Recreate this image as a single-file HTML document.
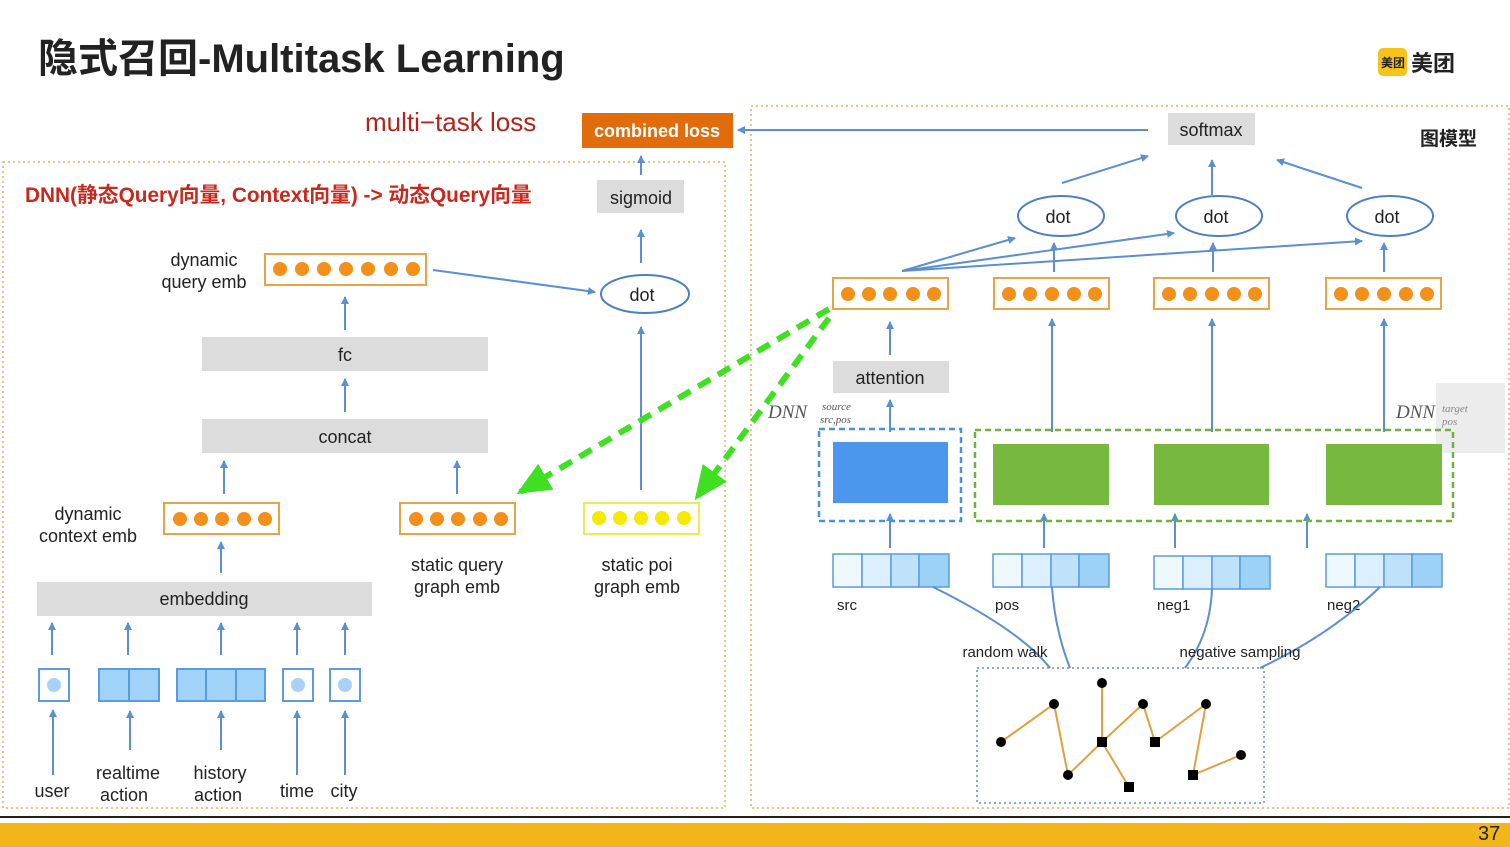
<!DOCTYPE html>
<html><head><meta charset="utf-8"><style>
html,body{margin:0;padding:0;background:#fff;width:1510px;height:847px;overflow:hidden}
svg{display:block}
text{font-family:"Liberation Sans","Noto Sans CJK SC",sans-serif}
</style></head><body>
<svg width="1510" height="847" viewBox="0 0 1510 847" xmlns="http://www.w3.org/2000/svg" fill="#222">
<defs>
<marker id="a" markerWidth="8" markerHeight="8" refX="7" refY="4" orient="auto" markerUnits="userSpaceOnUse"><path d="M0,0 L8,4 L0,8 z" fill="#5b8fd0"/></marker>
<marker id="g" markerWidth="34" markerHeight="30" refX="30" refY="15" orient="auto" markerUnits="userSpaceOnUse"><path d="M0,0 L34,15 L0,30 z" fill="#3ee021"/></marker>
</defs>
<!-- title -->
<text x="38" y="72" font-size="40" font-weight="bold" fill="#222">隐式召回-Multitask Learning</text>
<rect x="1378" y="48" width="29" height="28" rx="5" fill="#f8c21c"/>
<text x="1381" y="67" font-size="12" font-weight="bold">美团</text>
<text x="1411" y="71" font-size="22" font-weight="bold">美团</text>
<!-- bottom -->
<line x1="0" y1="817" x2="1510" y2="817" stroke="#222" stroke-width="2"/>
<rect x="0" y="823" width="1510" height="24" fill="#f2b51a"/>
<text x="1478" y="840" font-size="20" fill="#222">37</text>
<!-- loss -->
<text x="365" y="131" font-size="26" fill="#b3221b">multi−task loss</text>
<rect x="582" y="113" width="151" height="35" fill="#e06c0b"/>
<text x="657" y="137" font-size="18" font-weight="bold" fill="#fff" text-anchor="middle">combined loss</text>
<!-- frames -->
<rect x="3" y="162" width="722" height="646" fill="none" stroke="#e4b060" stroke-width="1.5" stroke-dasharray="2,3"/>
<rect x="751" y="106" width="758" height="702" fill="none" stroke="#e4b060" stroke-width="1.5" stroke-dasharray="2,3"/>
<text x="25" y="202" font-size="20.8" font-weight="bold" fill="#c9281d">DNN(静态Query向量, Context向量) -&gt; 动态Query向量</text>
<!-- left -->
<rect x="597" y="180" width="87" height="33" fill="#dcdcdc"/>
<text x="641" y="204" font-size="18" text-anchor="middle">sigmoid</text>
<line x1="641" y1="175" x2="641" y2="156" stroke="#5b8fd0" stroke-width="2" marker-end="url(#a)"/>
<line x1="641" y1="263" x2="641" y2="230" stroke="#5b8fd0" stroke-width="2" marker-end="url(#a)"/>
<ellipse cx="645" cy="294" rx="44" ry="19" fill="#fff" stroke="#4c7fc0" stroke-width="2"/>
<text x="642" y="301" font-size="18" text-anchor="middle">dot</text>
<text x="204" y="266" font-size="18" text-anchor="middle">dynamic</text>
<text x="204" y="288" font-size="18" text-anchor="middle">query emb</text>
<rect x="265" y="254" width="161" height="31" fill="#fff" stroke="#e8a444" stroke-width="2"/>
<g fill="#f39019"><circle cx="280" cy="269" r="7"/><circle cx="302" cy="269" r="7"/><circle cx="324" cy="269" r="7"/><circle cx="346" cy="269" r="7"/><circle cx="368" cy="269" r="7"/><circle cx="391" cy="269" r="7"/><circle cx="413" cy="269" r="7"/></g>
<line x1="433" y1="270" x2="595" y2="292" stroke="#5b8fd0" stroke-width="2" marker-end="url(#a)"/>
<line x1="345" y1="330" x2="345" y2="297" stroke="#5b8fd0" stroke-width="2" marker-end="url(#a)"/>
<rect x="202" y="337" width="286" height="34" fill="#dcdcdc"/>
<text x="345" y="361" font-size="18" text-anchor="middle">fc</text>
<line x1="345" y1="412" x2="345" y2="379" stroke="#5b8fd0" stroke-width="2" marker-end="url(#a)"/>
<rect x="202" y="419" width="286" height="34" fill="#dcdcdc"/>
<text x="345" y="443" font-size="18" text-anchor="middle">concat</text>
<line x1="224" y1="494" x2="224" y2="461" stroke="#5b8fd0" stroke-width="2" marker-end="url(#a)"/>
<line x1="457" y1="494" x2="457" y2="461" stroke="#5b8fd0" stroke-width="2" marker-end="url(#a)"/>
<text x="88" y="520" font-size="18" text-anchor="middle">dynamic</text>
<text x="88" y="542" font-size="18" text-anchor="middle">context emb</text>
<rect x="164" y="503" width="115" height="31" fill="#fff" stroke="#e8a444" stroke-width="2"/>
<g fill="#f39019"><circle cx="180" cy="519" r="7"/><circle cx="201" cy="519" r="7"/><circle cx="222" cy="519" r="7"/><circle cx="244" cy="519" r="7"/><circle cx="265" cy="519" r="7"/></g>
<rect x="400" y="503" width="115" height="31" fill="#fff" stroke="#e8a444" stroke-width="2"/>
<g fill="#f39019"><circle cx="416" cy="519" r="7"/><circle cx="437" cy="519" r="7"/><circle cx="458" cy="519" r="7"/><circle cx="480" cy="519" r="7"/><circle cx="501" cy="519" r="7"/></g>
<rect x="584" y="503" width="115" height="31" fill="#fff" stroke="#f0ea4a" stroke-width="2"/>
<g fill="#f4ea00"><circle cx="599" cy="518" r="7"/><circle cx="620" cy="518" r="7"/><circle cx="641" cy="518" r="7"/><circle cx="662" cy="518" r="7"/><circle cx="684" cy="518" r="7"/></g>
<line x1="641" y1="490" x2="641" y2="327" stroke="#5b8fd0" stroke-width="2" marker-end="url(#a)"/>
<text x="457" y="571" font-size="18" text-anchor="middle">static query</text>
<text x="457" y="593" font-size="18" text-anchor="middle">graph emb</text>
<text x="637" y="571" font-size="18" text-anchor="middle">static poi</text>
<text x="637" y="593" font-size="18" text-anchor="middle">graph emb</text>
<line x1="221" y1="573" x2="221" y2="542" stroke="#5b8fd0" stroke-width="2" marker-end="url(#a)"/>
<rect x="37" y="582" width="335" height="34" fill="#dcdcdc"/>
<text x="204" y="605" font-size="18" text-anchor="middle">embedding</text>
<g stroke="#5b8fd0" stroke-width="2" marker-end="url(#a)">
<line x1="52" y1="655" x2="52" y2="623"/><line x1="128" y1="655" x2="128" y2="623"/><line x1="221" y1="655" x2="221" y2="623"/><line x1="297" y1="655" x2="297" y2="623"/><line x1="345" y1="655" x2="345" y2="623"/>
<line x1="53" y1="775" x2="53" y2="710"/><line x1="130" y1="750" x2="130" y2="711"/><line x1="221" y1="750" x2="221" y2="711"/><line x1="297" y1="775" x2="297" y2="711"/><line x1="345" y1="775" x2="345" y2="711"/>
</g>
<g stroke="#5b9be0" stroke-width="2">
<rect x="39" y="669" width="30" height="32" fill="#fff"/><circle cx="54" cy="685" r="7" fill="#a8d2f5" stroke="none"/>
<rect x="99" y="669" width="60" height="32" fill="#9fd3f8"/><line x1="129" y1="669" x2="129" y2="701"/>
<rect x="177" y="669" width="88" height="32" fill="#9fd3f8"/><line x1="206" y1="669" x2="206" y2="701"/><line x1="236" y1="669" x2="236" y2="701"/>
<rect x="283" y="669" width="30" height="32" fill="#fff"/><circle cx="298" cy="685" r="7" fill="#a8d2f5" stroke="none"/>
<rect x="330" y="669" width="30" height="32" fill="#fff"/><circle cx="345" cy="685" r="7" fill="#a8d2f5" stroke="none"/>
</g>
<text x="52" y="797" font-size="18" text-anchor="middle">user</text>
<text x="128" y="779" font-size="18" text-anchor="middle">realtime</text>
<text x="124" y="801" font-size="18" text-anchor="middle">action</text>
<text x="220" y="779" font-size="18" text-anchor="middle">history</text>
<text x="218" y="801" font-size="18" text-anchor="middle">action</text>
<text x="297" y="797" font-size="18" text-anchor="middle">time</text>
<text x="344" y="797" font-size="18" text-anchor="middle">city</text>
<!-- right -->
<rect x="1168" y="113" width="87" height="32" fill="#dcdcdc"/>
<text x="1211" y="136" font-size="18" text-anchor="middle">softmax</text>
<line x1="1148" y1="130" x2="738" y2="130" stroke="#5b8fd0" stroke-width="2" marker-end="url(#a)"/>
<text x="1420" y="145" font-size="19" font-weight="bold">图模型</text>
<g stroke="#5b8fd0" stroke-width="2" marker-end="url(#a)">
<line x1="1062" y1="183" x2="1148" y2="156"/><line x1="1212" y1="195" x2="1212" y2="160"/><line x1="1362" y1="188" x2="1277" y2="160"/>
<line x1="902" y1="271" x2="1015" y2="238"/><line x1="902" y1="271" x2="1174" y2="233"/><line x1="902" y1="271" x2="1362" y2="241"/>
<line x1="1054" y1="272" x2="1054" y2="243"/><line x1="1213" y1="272" x2="1213" y2="243"/><line x1="1384" y1="272" x2="1384" y2="243"/>
<line x1="890" y1="355" x2="890" y2="322"/><line x1="890" y1="432" x2="890" y2="400"/>
<line x1="1052" y1="432" x2="1052" y2="319"/><line x1="1212" y1="432" x2="1212" y2="319"/><line x1="1384" y1="432" x2="1384" y2="319"/>
<line x1="890" y1="548" x2="890" y2="514"/><line x1="1044" y1="548" x2="1044" y2="514"/><line x1="1175" y1="548" x2="1175" y2="514"/><line x1="1307" y1="548" x2="1307" y2="514"/>
</g>
<g fill="#fff" stroke="#4c7fc0" stroke-width="2">
<ellipse cx="1061" cy="216" rx="43" ry="20"/><ellipse cx="1219" cy="216" rx="43" ry="20"/><ellipse cx="1390" cy="216" rx="43" ry="20"/>
</g>
<text x="1058" y="223" font-size="18" text-anchor="middle">dot</text>
<text x="1216" y="223" font-size="18" text-anchor="middle">dot</text>
<text x="1387" y="223" font-size="18" text-anchor="middle">dot</text>
<g fill="#fff" stroke="#e8a444" stroke-width="2">
<rect x="833" y="278" width="115" height="31"/><rect x="994" y="278" width="115" height="31"/><rect x="1154" y="278" width="115" height="31"/><rect x="1326" y="278" width="115" height="31"/>
</g>
<g fill="#f39019">
<circle cx="848" cy="294" r="7"/><circle cx="869" cy="294" r="7"/><circle cx="890" cy="294" r="7"/><circle cx="913" cy="294" r="7"/><circle cx="934" cy="294" r="7"/>
<circle cx="1009" cy="294" r="7"/><circle cx="1030" cy="294" r="7"/><circle cx="1052" cy="294" r="7"/><circle cx="1074" cy="294" r="7"/><circle cx="1095" cy="294" r="7"/>
<circle cx="1169" cy="294" r="7"/><circle cx="1190" cy="294" r="7"/><circle cx="1212" cy="294" r="7"/><circle cx="1234" cy="294" r="7"/><circle cx="1255" cy="294" r="7"/>
<circle cx="1341" cy="294" r="7"/><circle cx="1362" cy="294" r="7"/><circle cx="1384" cy="294" r="7"/><circle cx="1406" cy="294" r="7"/><circle cx="1427" cy="294" r="7"/>
</g>
<rect x="833" y="361" width="116" height="32" fill="#dcdcdc"/>
<text x="890" y="384" font-size="18" text-anchor="middle">attention</text>
<rect x="1436" y="383" width="69" height="70" fill="#ececec"/>
<text x="768" y="418" font-size="19" font-style="italic" style="font-family:'Liberation Serif',serif" fill="#555">DNN</text>
<text x="822" y="410" font-size="11" font-style="italic" style="font-family:'Liberation Serif',serif" fill="#555">source</text>
<text x="820" y="423" font-size="11" font-style="italic" style="font-family:'Liberation Serif',serif" fill="#555">src,pos</text>
<text x="1396" y="418" font-size="19" font-style="italic" style="font-family:'Liberation Serif',serif" fill="#555">DNN</text>
<text x="1442" y="412" font-size="11" font-style="italic" style="font-family:'Liberation Serif',serif" fill="#888">target</text>
<text x="1442" y="425" font-size="11" font-style="italic" style="font-family:'Liberation Serif',serif" fill="#888">pos</text>
<rect x="819" y="429" width="142" height="92" fill="none" stroke="#4a90e2" stroke-width="2.5" stroke-dasharray="6,4"/>
<rect x="833" y="442" width="115" height="61" fill="#4b97ef"/>
<rect x="975" y="430" width="478" height="91" fill="none" stroke="#6fb33a" stroke-width="2.5" stroke-dasharray="6,4"/>
<g fill="#77b83f"><rect x="993" y="444" width="116" height="61"/><rect x="1154" y="444" width="115" height="61"/><rect x="1326" y="444" width="116" height="61"/></g>
<g stroke="#5b9be0" stroke-width="1.5">
<g transform="translate(833,554)"><rect x="0" y="0" width="29" height="33" fill="#eef8ff"/><rect x="29" y="0" width="29" height="33" fill="#dcefff"/><rect x="58" y="0" width="28" height="33" fill="#bfe2fb"/><rect x="86" y="0" width="30" height="33" fill="#9dd2f7"/></g>
<g transform="translate(993,554)"><rect x="0" y="0" width="29" height="33" fill="#eef8ff"/><rect x="29" y="0" width="29" height="33" fill="#dcefff"/><rect x="58" y="0" width="28" height="33" fill="#bfe2fb"/><rect x="86" y="0" width="30" height="33" fill="#9dd2f7"/></g>
<g transform="translate(1154,556)"><rect x="0" y="0" width="29" height="33" fill="#eef8ff"/><rect x="29" y="0" width="29" height="33" fill="#dcefff"/><rect x="58" y="0" width="28" height="33" fill="#bfe2fb"/><rect x="86" y="0" width="30" height="33" fill="#9dd2f7"/></g>
<g transform="translate(1326,554)"><rect x="0" y="0" width="29" height="33" fill="#eef8ff"/><rect x="29" y="0" width="29" height="33" fill="#dcefff"/><rect x="58" y="0" width="28" height="33" fill="#bfe2fb"/><rect x="86" y="0" width="30" height="33" fill="#9dd2f7"/></g>
</g>
<text x="837" y="610" font-size="15">src</text>
<text x="995" y="610" font-size="15">pos</text>
<text x="1157" y="610" font-size="15">neg1</text>
<text x="1327" y="610" font-size="15">neg2</text>
<g fill="none" stroke="#5b8fd0" stroke-width="2">
<path d="M933,587 Q1020,630 1050,668"/><path d="M1052,587 Q1055,630 1070,668"/><path d="M1212,589 Q1210,635 1185,668"/><path d="M1380,587 Q1330,635 1260,668"/>
</g>
<text x="1005" y="657" font-size="15" text-anchor="middle">random walk</text>
<text x="1240" y="657" font-size="15" text-anchor="middle">negative sampling</text>
<rect x="977" y="668" width="287" height="135" fill="none" stroke="#5b8fd0" stroke-width="1.5" stroke-dasharray="2,3"/>
<g stroke="#e0a040" stroke-width="2">
<line x1="1001" y1="742" x2="1054" y2="704"/><line x1="1054" y1="704" x2="1068" y2="775"/><line x1="1068" y1="775" x2="1102" y2="742"/><line x1="1102" y1="683" x2="1102" y2="742"/><line x1="1102" y1="742" x2="1143" y2="704"/><line x1="1102" y1="742" x2="1129" y2="787"/><line x1="1143" y1="704" x2="1155" y2="742"/><line x1="1155" y1="742" x2="1206" y2="704"/><line x1="1206" y1="704" x2="1193" y2="775"/><line x1="1193" y1="775" x2="1241" y2="755"/>
</g>
<g fill="#000">
<circle cx="1001" cy="742" r="5"/><circle cx="1054" cy="704" r="5"/><circle cx="1102" cy="683" r="5"/><circle cx="1143" cy="704" r="5"/><circle cx="1206" cy="704" r="5"/><circle cx="1241" cy="755" r="5"/><circle cx="1068" cy="775" r="5"/>
<rect x="1097" y="737" width="10" height="10"/><rect x="1150" y="737" width="10" height="10"/><rect x="1124" y="782" width="10" height="10"/><rect x="1188" y="770" width="10" height="10"/>
</g>
<!-- green dashed -->
<g stroke="#3ee021" stroke-width="6" stroke-dasharray="14,9" fill="none">
<line x1="829" y1="309" x2="520" y2="492" marker-end="url(#g)"/>
<line x1="829" y1="318" x2="697" y2="497" marker-end="url(#g)"/>
</g>
</svg>
</body></html>
